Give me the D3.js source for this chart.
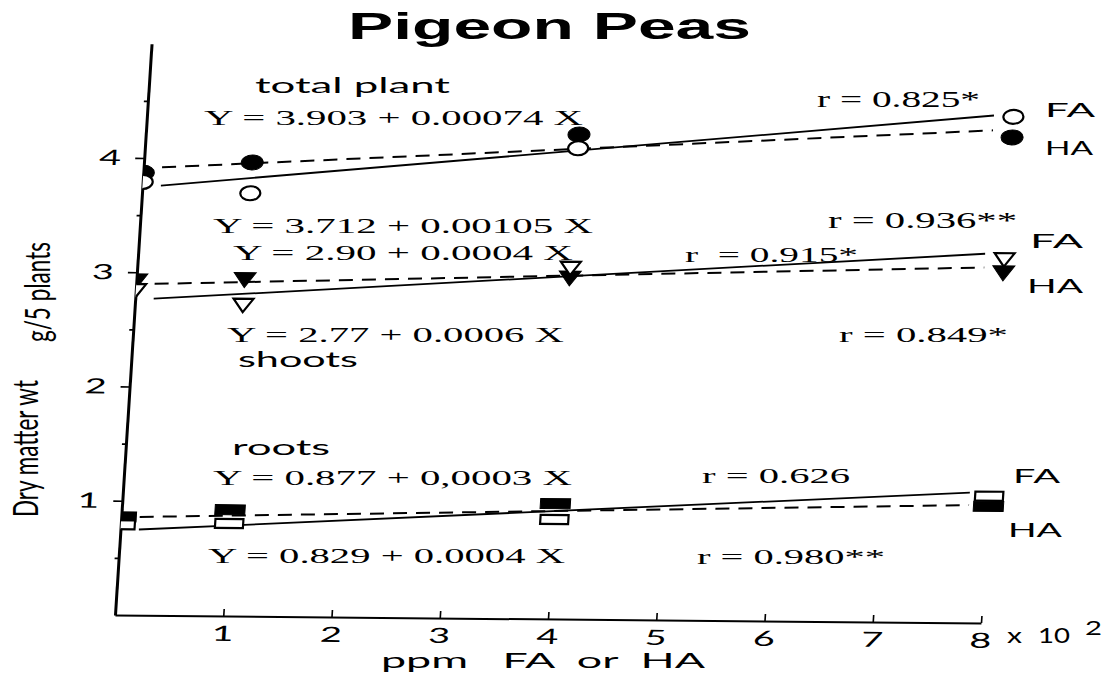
<!DOCTYPE html>
<html>
<head>
<meta charset="utf-8">
<script src="https://cdn.jsdelivr.net/npm/d3@7"></script>
<style>
body { margin: 0; background: #fff; }
text { white-space: pre; }
</style>
</head>
<body>
<svg id="chart" width="1104" height="673"></svg>
<script>
// ppm FA or HA, in hundreds (x 10^2)
xTicks = [1, 2, 3, 4, 5, 6, 7, 8];
yTicks = [1, 2, 3, 4];
yMinor = [0.5, 1.5, 2.5, 3.5, 4.5];
doses = [0, 1, 4, 8];

// dry matter wt, g / 5 plants
totalFA = [3.79, 3.70, 4.12, 4.43];
totalHA = [3.87, 3.97, 4.24, 4.25];
shootsFA = [2.84, 2.72, 3.07, 3.18];
shootsHA = [2.92, 2.94, 2.98, 3.06];
rootsFA = [0.79, 0.81, 0.87, 1.11];
rootsHA = [0.86, 0.93, 1.01, 1.02];

// fitted lines: value at each end of lineX
lineX = [0.17, 7.82];
totalFAfit = [3.76, 4.44];
totalHAfit = [3.92, 4.31];
shootsFAfit = [2.77, 3.23];
shootsHAfit = [2.90, 3.11];
rootsFAfit = [0.75, 1.14];
rootsHAfit = [0.86, 1.03];

SERIF = "Liberation Serif"
SANS = "Lato"
SX = 1.8 // the scan is stretched sideways

var svg = d3.select("#chart");

var xs = d3.scaleLinear().domain([0, 8]).range([115, 981]);
var ys = d3.scaleLinear().domain([0, 5]).range([615, 615 - 5 * 114.25]);

// the original y axis leans and the page is a bit tilted
var K = 0.064, B = 0.0092;
var plot = svg.append("g")
    .attr("transform", "matrix(1," + B + "," + (-K) + ",1," + (K * ys(0)) + "," + (-B * xs(0)) + ")");

plot.append("clipPath").attr("id", "right_of_axis")
    .append("rect")
    .attr("x", xs(0)).attr("y", 0)
    .attr("width", 1000).attr("height", 700);

// axes
var yAxis = plot.append("g")
    .attr("transform", "translate(" + xs(0) + ",0)")
    .call(d3.axisLeft(ys).tickValues(yTicks).tickSize(9).tickSizeOuter(0).tickFormat(d3.format("d")));
yAxis.select(".domain").attr("stroke-width", 3);
yAxis.selectAll(".tick line").attr("stroke-width", 1.6);
yAxis.selectAll("text")
    .attr("x", 0)
    .attr("transform", "translate(-23,0) scale(" + SX + ",1)")
    .attr("font-family", SANS).attr("font-size", 21).attr("fill", "#000");

var yMinorAxis = plot.append("g")
    .attr("transform", "translate(" + xs(0) + ",0)")
    .call(d3.axisLeft(ys).tickValues(yMinor).tickSize(4).tickFormat(""));
yMinorAxis.select(".domain").remove();
yMinorAxis.selectAll(".tick line").attr("stroke-width", 1.6);

var xAxis = plot.append("g")
    .attr("transform", "translate(0," + ys(0) + ")")
    .call(d3.axisBottom(xs).tickValues(xTicks).tickSizeInner(-7).tickSizeOuter(0).tickPadding(10));
xAxis.select(".domain").attr("stroke-width", 2);
xAxis.selectAll(".tick line").attr("stroke-width", 1.6);
xAxis.selectAll("text")
    .attr("transform", "scale(" + SX + ",1)")
    .attr("font-family", SANS).attr("font-size", 21).attr("fill", "#000");

// series
var series = [
    { vals: totalHA, fit: totalHAfit, shape: "circle", filled: true, dash: true },
    { vals: totalFA, fit: totalFAfit, shape: "circle", filled: false, dash: false },
    { vals: shootsHA, fit: shootsHAfit, shape: "triangle", filled: true, dash: true },
    { vals: shootsFA, fit: shootsFAfit, shape: "triangle", filled: false, dash: false },
    { vals: rootsHA, fit: rootsHAfit, shape: "square", filled: true, dash: true },
    { vals: rootsFA, fit: rootsFAfit, shape: "square", filled: false, dash: false }
];

var line = d3.line()
    .x(function (d) { return xs(d[0]); })
    .y(function (d) { return ys(d[1]); });

series.forEach(function (s) {
    plot.append("path")
        .datum(lineX.map(function (x, i) { return [x, s.fit[i]]; }))
        .attr("d", line)
        .attr("fill", "none")
        .attr("stroke", "#000")
        .attr("stroke-width", s.dash ? 2 : 1.8)
        .attr("stroke-dasharray", s.dash ? "14,9" : null);
});

var markers = plot.append("g").attr("clip-path", "url(#right_of_axis)");

series.forEach(function (s) {
    var m = markers.selectAll(null)
        .data(doses.map(function (x, i) { return [x, s.vals[i]]; }))
        .enter().append("g")
        .attr("transform", function (d) { return "translate(" + xs(d[0]) + "," + ys(d[1]) + ")"; });
    var shape;
    if (s.shape === "circle") {
        shape = m.append("ellipse").attr("rx", s.filled ? 11 : 10).attr("ry", s.filled ? 7.5 : 7);
    } else if (s.shape === "triangle") {
        shape = m.append("path").attr("d", s.filled ? "M-11,-7.5L11,-7.5L0,7.5Z" : "M-10,-6.5L10,-6.5L0,7Z");
    } else {
        shape = s.filled
            ? m.append("rect").attr("x", -15).attr("y", -5).attr("width", 30).attr("height", 10)
            : m.append("rect").attr("x", -14).attr("y", -4.5).attr("width", 28).attr("height", 9);
    }
    shape.attr("fill", s.filled ? "#000" : "#fff")
        .attr("stroke", "#000")
        .attr("stroke-width", s.filled ? 1 : 2.2);
});

// text
function label(str, x, y, width, size, family, weight) {
    svg.append("text")
        .attr("x", x).attr("y", y)
        .attr("font-family", family)
        .attr("font-size", size)
        .attr("font-weight", weight || "normal")
        .attr("textLength", width)
        .attr("lengthAdjust", "spacingAndGlyphs")
        .text(str);
}

label("Pigeon Peas", 348, 39, 403, 36, "Liberation Sans", "bold");

var notes = [
    ["total plant", 255, 93, 195, 21, SANS],
    ["Y = 3.903 + 0.00074 X", 204, 125, 379, 22, SERIF],
    ["r = 0.825*", 817, 107, 163, 23, SERIF],
    ["FA", 1045, 117, 50, 19, SANS],
    ["HA", 1045, 155, 48, 19, SANS],
    ["Y = 3.712 + 0.00105 X", 213, 233, 380, 22, SERIF],
    ["r = 0.936**", 828, 228, 189, 23, SERIF],
    ["Y = 2.90 + 0.0004 X", 233, 260, 340, 22, SERIF],
    ["r  = 0.915*", 685, 262, 173, 22, SERIF],
    ["FA", 1030, 248, 53, 19, SANS],
    ["HA", 1027, 293, 56, 19, SANS],
    ["Y = 2.77 + 0.0006 X", 227, 342, 337, 22, SERIF],
    ["r = 0.849*", 839, 342, 169, 22, SERIF],
    ["shoots", 238, 367, 120, 21, SANS],
    ["roots", 232, 455, 98, 21, SANS],
    ["Y = 0.877 + 0,0003 X", 213, 485, 359, 22, SERIF],
    ["r = 0.626", 702, 483, 148, 22, SERIF],
    ["FA", 1013, 483, 47, 19, SANS],
    ["HA", 1008, 537, 54, 19, SANS],
    ["Y = 0.829 + 0.0004 X", 208, 563, 357, 22, SERIF],
    ["r = 0.980**", 697, 564, 188, 22, SERIF],
    ["ppm   FA  or  HA", 381, 668, 324, 22, SANS],
    ["x", 1007, 643, 15, 21, SANS],
    ["10", 1038, 643, 32, 21, SANS],
    ["2", 1085, 635, 17, 20, SANS]
];
notes.forEach(function (n) { label(n[0], n[1], n[2], n[3], n[4], n[5]); });

// y axis title, two pieces
[["Dry matter wt", 38, 517, 137], ["g/5 plants", 50, 342, 100]].forEach(function (t) {
    svg.append("text")
        .attr("transform", "translate(" + t[1] + "," + t[2] + ") scale(" + SX + ",1) rotate(-90)")
        .attr("font-family", SANS)
        .attr("font-size", 19)
        .attr("textLength", t[3])
        .attr("lengthAdjust", "spacingAndGlyphs")
        .text(t[0]);
});
</script>
</body>
</html>
